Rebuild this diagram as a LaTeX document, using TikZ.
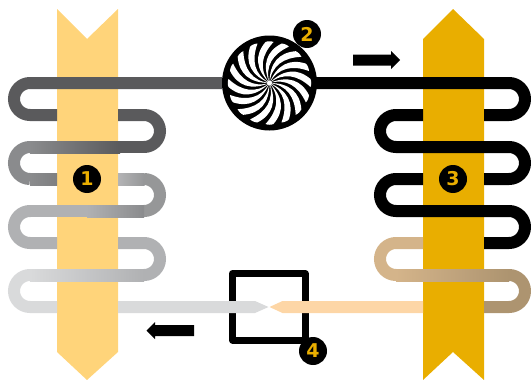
\documentclass[tikz,border=0pt]{standalone}
\usepackage{fontspec}
\setmainfont{DejaVu Sans}
\definecolor{palegold}{HTML}{FFD47A}
\definecolor{deepgold}{HTML}{E9AE00}
\definecolor{peach}{HTML}{FDD6A6}
\definecolor{pipeA}{HTML}{5A5A5C}
\definecolor{pipeB}{HTML}{8A8B8D}
\definecolor{pipeC}{HTML}{B0B1B3}
\definecolor{pipeD}{HTML}{D9DADB}
\definecolor{tanA}{HTML}{D4B48A}
\definecolor{tanB}{HTML}{AD9470}
\tikzset{
  pipe/.style={line width=12pt},
  badge/.style={circle,fill=black,text=deepgold,minimum size=28pt,inner sep=0pt,font=\bfseries\fontsize{19}{19}\selectfont},
  flowarrow/.style={fill=black},
  lturn/.style={start angle=-90,end angle=-270,radius=16},
  rturn/.style={start angle=-90,end angle=90,radius=16},
}
\begin{document}
\begin{tikzpicture}[x=1pt,y=-1pt]
  \useasboundingbox (0,0) rectangle (531,380);
  % strips
  \fill[palegold] (57,9) -- (87,39) -- (118,9) -- (118,352) -- (87,380) -- (57,352) -- cycle;
  \fill[deepgold] (423,39) -- (453,9) -- (484,39) -- (484,380) -- (453,352) -- (423,380) -- cycle;
  % left coil
  \draw[pipe,pipeA] (222,83) -- (30,83) arc[lturn] -- (57,115);
  \draw[pipe,pipeA] (118,115) -- (144,115) arc[rturn];
  \shade[left color=pipeB,right color=pipeA] (30,141) rectangle (120,153);
  \fill[pipeA] (119.5,141) rectangle (144.5,153);
  \draw[pipe,pipeB] (30.5,147) -- (30,147) arc[lturn];
  \shade[left color=pipeB,right color=pipeB!75!pipeA] (30,173) rectangle (57,185);
  \shade[left color=pipeB!65!white,right color=pipeB!90!white] (118,173) rectangle (144.5,185);
  \draw[pipe,pipeB!90!white] (144,179) arc[rturn] -- (143.5,211);
  \shade[left color=pipeC,right color=pipeB] (87,205) rectangle (144,217);
  \fill[pipeC] (30,205) rectangle (87.5,217);
  \draw[pipe,pipeC] (30.5,211) -- (30,211) arc[lturn] -- (57,243);
  \draw[pipe,pipeC] (118,243) -- (144,243) arc[rturn] -- (143.5,275);
  \shade[left color=pipeD,right color=pipeC] (30,269) rectangle (144,281);
  \draw[pipe,pipeD] (30.5,275) -- (30,275) arc[lturn] -- (57,307);
  % right coil
  \draw[pipe,black] (316,83) -- (509,83) arc[rturn] -- (484,115);
  \draw[pipe,black] (423,115) -- (396,115) arc[lturn] -- (509,147) arc[rturn] -- (484,179);
  \draw[pipe,black] (423,179) -- (396,179) arc[lturn] -- (509,211) arc[rturn] -- (484,243);
  \draw[pipe,tanA] (423,243) -- (396,243) arc[lturn] -- (396.5,275);
  \shade[left color=tanA,right color=tanB] (396,269) rectangle (509,281);
  \draw[pipe,tanB] (508.5,275) -- (509,275) arc[rturn] -- (484,307);
  % valve
  \draw[line width=7pt,line join=round] (232.5,273.5) rectangle (305,340);
  \fill[pipeD] (118,301) -- (255,301) -- (268.5,307) -- (255,313) -- (118,313) -- cycle;
  \fill[peach] (423,301) -- (282.5,301) -- (269.5,307) -- (282.5,313) -- (423,313) -- cycle;
  % compressor
  \fill[black] (269.5,83) circle[radius=47.5];
  \begin{scope}[shift={(269.5,83)}]
    \foreach \a in {0,22.5,...,337.5} {
      \fill[white,rotate=\a] (0,0) .. controls (14,-14) and (28,-15) .. (41,-4)
        .. controls (42,-2) and (42,2) .. (41,4)
        .. controls (28,-8) and (14,-11) .. (0,0) -- cycle;
    }
    \fill[white] (0,0) circle[radius=2.5];
  \end{scope}
  % arrows
  \fill[flowarrow] (353,54.5) -- (391,54.5) -- (391,51) -- (400,60) -- (391,69) -- (391,65.5) -- (353,65.5) -- cycle;
  \fill[flowarrow] (194,325) -- (155,325) -- (155,322) -- (146.5,330.5) -- (155,339) -- (155,336) -- (194,336) -- cycle;
  % labels
  \node[badge] (one) at (87,179) {1};
  \node[badge] (two) at (307,34) {2};
  \node[badge] (three) at (453,179) {3};
  \node[badge] (four) at (313,351) {4};
\end{tikzpicture}
\end{document}
